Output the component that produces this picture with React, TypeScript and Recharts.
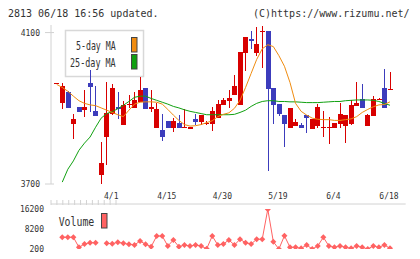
import { ComposedChart, Bar, Line, XAxis, YAxis } from "recharts";

const UP = "#d80000";
const DOWN = "#3c3cbc";
const MA5_COLOR = "#f08c10";
const MA25_COLOR = "#10a010";
const VOL_COLOR = "#ff6262";
const AXIS = "#d2d2d2";
const TEXT = "#333";
const FONT = "'DejaVu Sans Mono', monospace";

// daily bars, oldest first
const opens = [
  3968, 3915, 3943, 3859, 3903, 3895, 3968, 3892, 3724, 3824,
  3886, 3904, 3855, 3909, 3902, 3917, 3953, 3897, 3848, 3842,
  3866, 3848, 3860, 3848, 3845, 3871, 3864, 3860, 3858, 3875,
  3908, 3918, 3934, 3910, 4047, 4083, 4046, 4102, 4103, 3953,
  3911, 3882, 3848, 3853, 3855, 3882, 3846, 3853, 3849, 3849,
  3848, 3859, 3853, 3858, 3906, 3925, 3853, 3880, 3924, 3953,
  3951,
];
const highs = [
  3968, 3968, 3945, 3886, 3903, 3947, 4002, 3958, 3811, 3969,
  3964, 3943, 3919, 3934, 3943, 3982, 3953, 3947, 3915, 3886,
  3866, 3875, 3882, 3897, 3850, 3886, 3882, 3866, 3903, 3921,
  3927, 3949, 3987, 4048, 4089, 4103, 4114, 4118, 4103, 3953,
  3911, 3882, 3902, 3871, 3861, 3882, 3871, 3911, 3892, 3877,
  3861, 3915, 3882, 3921, 3969, 3963, 3886, 3932, 3926, 4003,
  3997,
];
const lows = [
  3968, 3899, 3900, 3820, 3891, 3877, 3892, 3880, 3700, 3750,
  3882, 3873, 3855, 3899, 3902, 3917, 3897, 3890, 3848, 3814,
  3848, 3839, 3848, 3848, 3845, 3857, 3855, 3855, 3839, 3875,
  3908, 3901, 3934, 3910, 4000, 4055, 4037, 4006, 3732, 3859,
  3880, 3798, 3848, 3853, 3848, 3835, 3846, 3847, 3824, 3805,
  3848, 3848, 3809, 3855, 3906, 3901, 3853, 3880, 3924, 3901,
  3951,
];
const closes = [
  3968, 3958, 3901, 3871, 3891, 3903, 3956, 3880, 3756, 3887,
  3953, 3897, 3908, 3911, 3921, 3947, 3897, 3903, 3897, 3825,
  3848, 3866, 3848, 3851, 3850, 3864, 3882, 3862, 3892, 3911,
  3921, 3927, 3958, 4048, 4089, 4077, 4070, 4104, 3952, 3910,
  3885, 3858, 3902, 3865, 3848, 3875, 3871, 3903, 3851, 3851,
  3861, 3886, 3882, 3908, 3915, 3901, 3882, 3925, 3925, 3901,
  3952,
];
const ma5 = [
  3963, 3955, 3945, 3932, 3920, 3913, 3909, 3907, 3901, 3895,
  3889, 3883, 3878, 3895, 3911, 3916, 3917, 3917, 3916, 3911,
  3897, 3882, 3868, 3857, 3853, 3854, 3857, 3862, 3867, 3878,
  3884, 3888, 3900, 3921, 3955, 3992, 4029, 4057, 4068, 4063,
  4039, 4011, 3968, 3913, 3892, 3882, 3874, 3871, 3870, 3870,
  3868, 3868, 3870, 3872, 3878, 3889, 3897, 3904, 3909, 3910,
  3917,
];
const ma25 = [
  null, 3705, 3739, 3761, 3789, 3808, 3824, 3850, 3874, 3886,
  3891, 3899, 3908, 3918, 3929, 3932, 3932, 3926, 3921, 3916,
  3911, 3905, 3901, 3896, 3892, 3889, 3886, 3883, 3883, 3883,
  3883, 3883, 3884, 3889, 3895, 3905, 3913, 3918, 3920, 3920,
  3918, 3918, 3917, 3917, 3916, 3915, 3915, 3915, 3916, 3917,
  3918, 3918, 3920, 3921, 3922, 3922, 3922, 3921, 3918, 3913,
  3908,
];
const volume = [
  null, 4900, 4900, 4900, 880, 2200, 2700, 2700, null, 2500,
  2300, 2900, 2500, 2100, 1800, 3400, 2100, 1130, 5400, 5400,
  1400, 3800, 1130, 1800, 1400, 1800, 1400, 300, 5400, 1800,
  2200, 3800, 1800, 4100, 2700, 2200, 4100, 4100, 16100, 3100,
  200, 5500, 880, 880, 480, 1800, 200, 1400, 4900, 1400,
  880, 1400, 880, 480, 1400, 880, 200, 1400, 880, 1800,
  480,
];

const dateTicks = [10, 20, 30, 40, 50, 60];
const dateLabels = ["4/1", "4/15", "4/30", "5/19", "6/4", "6/18"];
const priceTicks = [3700, 4100];
const volumeTicks = [200, 8200, 16200];
const notchTicks = [0, 1, 2, 3, 4, 5, 6, 7, 8, 9, 10, 11];

const data = opens.map((open, i) => ({
  i,
  open,
  high: highs[i],
  low: lows[i],
  close: closes[i],
  range: [lows[i], highs[i]],
  ma5: ma5[i],
  ma25: ma25[i],
  vol: volume[i],
}));

const X_DOMAIN: [number, number] = [-1.03, 62.83];

function Candle(props: any) {
  const { x, y, width, height, payload } = props;
  const { open, close, high, low } = payload;
  const color = close >= open ? UP : DOWN;
  const top = Math.min(y, y + height);
  const h = Math.abs(height);
  const span = high - low;
  const toY = (v: number) => (span > 0 ? top + ((high - v) / span) * h : top);
  const cx = Math.round(x + width / 2);
  const bodyTop = Math.round(toY(Math.max(open, close)));
  const bodyBot = Math.round(toY(Math.min(open, close)));
  return (
    <g shapeRendering="crispEdges">
      {h > 0 && <rect x={cx} y={Math.round(top)} width={1} height={Math.max(1, Math.round(h))} fill={color} />}
      <rect x={cx - 2} y={bodyTop} width={5} height={Math.max(1, bodyBot - bodyTop)} fill={color} />
    </g>
  );
}

function PriceTick({ x, y, payload }: any) {
  return (
    <g>
      <line x1={x - 6} x2={x + 3} y1={y} y2={y} stroke={AXIS} />
      <text x={x - 11} y={y + 3} textAnchor="end" fontSize={8} fontFamily={FONT} fill={TEXT}>
        {payload.value}
      </text>
    </g>
  );
}

function Notch({ x, y }: any) {
  return <line x1={x} x2={x} y1={y - 4} y2={y + 5} stroke={AXIS} />;
}

function DateTick({ x, y, payload }: any) {
  const k = dateTicks.indexOf(payload.value);
  return (
    <text x={x - 1} y={y + 15} textAnchor="middle" fontSize={8} fontFamily={FONT} fill={TEXT}>
      {dateLabels[k]}
    </text>
  );
}

function VolumeTick({ x, y, payload }: any) {
  return (
    <text x={x - 7} y={y + 3} textAnchor="end" fontSize={8} fontFamily={FONT} fill={TEXT}>
      {payload.value}
    </text>
  );
}

function Diamond({ cx, cy, index }: any) {
  if (cx == null || cy == null) return <g key={index} />;
  const r = 3;
  return (
    <path
      key={index}
      d={`M${cx},${cy - r}L${cx + r},${cy}L${cx},${cy + r}L${cx - r},${cy}Z`}
      fill={VOL_COLOR}
    />
  );
}

export default function App() {
  return (
    <div style={{ position: "absolute", left: 0, top: 0, width: 420, height: 259, background: "#fff" }}>
      <svg width={420} height={259} style={{ position: "absolute", left: 0, top: 0 }} fontFamily={FONT}>
        <text x={8} y={16.5} fontSize={10} fill={TEXT}>
          2813 06/18 16:56 updated.
        </text>
        <text x={253} y={16.5} fontSize={10} fill={TEXT}>
          (C)https://www.rizumu.net/
        </text>
        <rect x={65.5} y={30.5} width={78} height={46} fill="#fff" stroke="#d8d8d8" strokeWidth={1.5} />
        <text x={76} y={50} fontSize={12} fill={TEXT} textLength={39.7} lengthAdjust="spacingAndGlyphs">
          5-day MA
        </text>
        <text x={70} y={66.5} fontSize={12} fill={TEXT} textLength={45.7} lengthAdjust="spacingAndGlyphs">
          25-day MA
        </text>
        <rect x={131.5} y={37.5} width={5.5} height={14.5} fill={MA5_COLOR} stroke="#444" />
        <rect x={131.5} y={54.5} width={5.5} height={14.5} fill={MA25_COLOR} stroke="#444" />
        <text x={58.7} y={226} fontSize={12} fill={TEXT} textLength={35.6} lengthAdjust="spacingAndGlyphs">
          Volume
        </text>
        <rect x={101.5} y={213.5} width={5.5} height={14.5} fill={VOL_COLOR} stroke="#444" />
      </svg>

      <div style={{ position: "absolute", left: 0, top: 0 }}>
        <ComposedChart width={420} height={205} data={data} margin={{ top: 25, right: 14.3, bottom: 0, left: 0 }}>
          <XAxis
            xAxisId="notch"
            type="number"
            domain={[0, 11]}
            ticks={notchTicks}
            allowDataOverflow
            height={1}
            tickSize={0}
            tickMargin={0}
            tickLine={false}
            tick={<Notch />}
            axisLine={{ stroke: AXIS }}
            interval={0}
          />
          <XAxis
            xAxisId="d"
            dataKey="i"
            type="number"
            domain={X_DOMAIN}
            allowDataOverflow
            ticks={dateTicks}
            height={20}
            tickSize={0}
            tickMargin={0}
            tickLine={false}
            axisLine={false}
            tick={<DateTick />}
            interval={0}
          />
          <YAxis
            yAxisId="p"
            type="number"
            domain={[3700, 4120]}
            allowDataOverflow
            ticks={priceTicks}
            width={51}
            tickSize={0}
            tickMargin={0}
            tickLine={false}
            axisLine={{ stroke: AXIS }}
            tick={<PriceTick />}
            interval={0}
          />
          <Line xAxisId="d" yAxisId="p" dataKey="ma25" type="linear" stroke={MA25_COLOR} strokeWidth={1} dot={false} isAnimationActive={false} />
          <Line xAxisId="d" yAxisId="p" dataKey="ma5" type="linear" stroke={MA5_COLOR} strokeWidth={1} dot={false} isAnimationActive={false} />
          <Bar xAxisId="d" yAxisId="p" dataKey="range" barSize={5} shape={<Candle />} isAnimationActive={false} />
        </ComposedChart>
      </div>

      <div style={{ position: "absolute", left: 0, top: 203 }}>
        <ComposedChart width={420} height={56} data={data} margin={{ top: 6, right: 14.3, bottom: 10, left: 0 }}>
          <XAxis dataKey="i" type="number" domain={X_DOMAIN} allowDataOverflow hide />
          <YAxis
            type="number"
            domain={[200, 16200]}
            allowDataOverflow
            ticks={volumeTicks}
            width={51}
            tickSize={0}
            tickMargin={0}
            tickLine={false}
            axisLine={false}
            tick={<VolumeTick />}
            interval={0}
          />
          <Line dataKey="vol" type="linear" stroke={VOL_COLOR} strokeWidth={1} dot={<Diamond />} isAnimationActive={false} />
        </ComposedChart>
      </div>
    </div>
  );
}
